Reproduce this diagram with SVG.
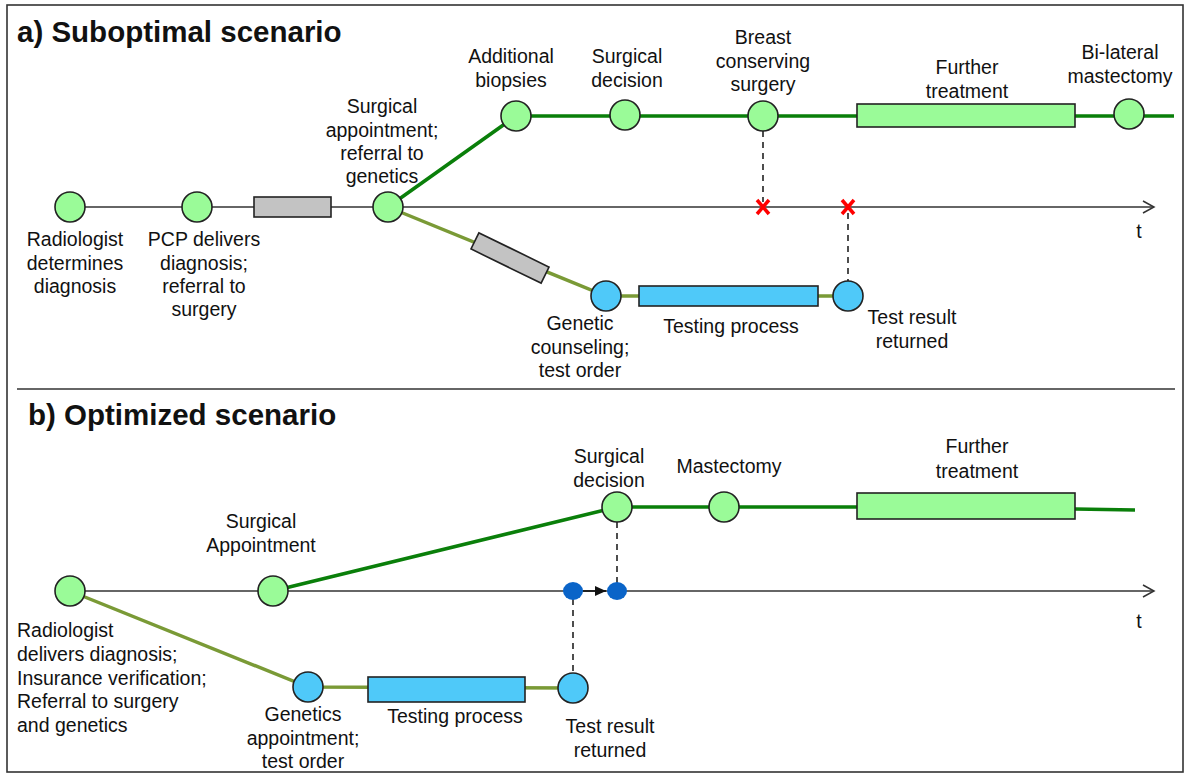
<svg xmlns="http://www.w3.org/2000/svg" width="1189" height="774" viewBox="0 0 1189 774">
<style>
text{font-family:"Liberation Sans",Arial,sans-serif;fill:#111;}
.lbl{font-size:19.5px;text-anchor:middle;}
.lbl18{font-size:19.5px;text-anchor:middle;}
.title{font-size:29.5px;font-weight:bold;}
.ng{fill:#9afb98;stroke:#222;stroke-width:1.6;}
.nb{fill:#4fc9f9;stroke:#222;stroke-width:1.6;}
.rg{fill:#9afb98;stroke:#222;stroke-width:1.6;}
.rb{fill:#4fc9f9;stroke:#222;stroke-width:1.6;}
.rgy{fill:#c3c3c3;stroke:#222;stroke-width:1.6;}
.axis{stroke:#333;stroke-width:1.5;fill:none;}
.green{stroke:#0a7f0a;stroke-width:3.5;fill:none;}
.olive{stroke:#7a9a36;stroke-width:3.5;fill:none;}
.dash{stroke:#222;stroke-width:1.6;stroke-dasharray:6,5;fill:none;}
.xmark{stroke:#f00;stroke-width:3.5;}
.dot{fill:#0a64c8;}
</style>
<defs>
<marker id="open" markerWidth="14" markerHeight="14" refX="12" refY="7" orient="auto" markerUnits="userSpaceOnUse">
<path d="M1,1 L12,7 L1,13" fill="none" stroke="#333" stroke-width="1.5"/>
</marker>
<marker id="solid" markerWidth="12" markerHeight="10" refX="11" refY="5" orient="auto" markerUnits="userSpaceOnUse">
<path d="M0,0 L11,5 L0,10 Z" fill="#111"/>
</marker>
</defs>
<rect x="7" y="5" width="1176" height="767" fill="#fff" stroke="#333" stroke-width="1.6"/>
<line x1="17" y1="389" x2="1175" y2="389" stroke="#333" stroke-width="1.6"/>
<text class="title" x="17" y="42">a) Suboptimal scenario</text>
<text class="title" x="28" y="425">b) Optimized scenario</text>

<g id="connectors">
<!-- panel a -->
<line class="axis" x1="70" y1="207" x2="1154" y2="207" marker-end="url(#open)"/>
<polyline class="green" points="388,207 516,116 1174,116"/>
<polyline class="olive" points="388,207 606,296 848,296"/>
<line class="dash" x1="763" y1="131" x2="763" y2="202"/>
<line class="dash" x1="848" y1="213" x2="848" y2="281"/>
<!-- panel b -->
<line class="axis" x1="70" y1="591" x2="1154" y2="591" marker-end="url(#open)"/>
<polyline class="green" points="273,591 617,507 857,507"/>
<line class="green" x1="1075" y1="509" x2="1135" y2="510"/>
<polyline class="olive" points="70,591 308,687 573,688"/>
<line class="dash" x1="617" y1="522" x2="617" y2="584"/>
<line class="dash" x1="573" y1="599" x2="573" y2="673"/>
<line x1="583" y1="591" x2="606" y2="591" stroke="#111" stroke-width="1.6" marker-end="url(#solid)"/>
</g>

<g id="a-radiologist"><circle class="ng" cx="70" cy="207" r="15"/>
<text class="lbl" x="75"><tspan x="75" y="246">Radiologist</tspan><tspan x="75" y="270">determines</tspan><tspan x="75" y="293">diagnosis</tspan></text></g>
<g id="a-pcp"><circle class="ng" cx="197" cy="207" r="15"/>
<text class="lbl" x="204"><tspan x="204" y="246">PCP delivers</tspan><tspan x="204" y="270">diagnosis;</tspan><tspan x="204" y="293">referral to</tspan><tspan x="204" y="316">surgery</tspan></text></g>
<g id="a-wait1"><rect class="rgy" x="254" y="197" width="77" height="20"/></g>
<g id="a-surgappt"><circle class="ng" cx="388" cy="207" r="15"/>
<text class="lbl" x="382"><tspan x="382" y="113">Surgical</tspan><tspan x="382" y="137">appointment;</tspan><tspan x="382" y="160">referral to</tspan><tspan x="382" y="183">genetics</tspan></text></g>
<g id="a-biopsies"><circle class="ng" cx="516" cy="116" r="15"/>
<text class="lbl" x="511"><tspan x="511" y="63">Additional</tspan><tspan x="511" y="87">biopsies</tspan></text></g>
<g id="a-decision"><circle class="ng" cx="625" cy="115" r="15"/>
<text class="lbl" x="627"><tspan x="627" y="63">Surgical</tspan><tspan x="627" y="87">decision</tspan></text></g>
<g id="a-bcs"><circle class="ng" cx="763" cy="116" r="15"/>
<text class="lbl" x="763"><tspan x="763" y="44">Breast</tspan><tspan x="763" y="68">conserving</tspan><tspan x="763" y="91">surgery</tspan></text></g>
<g id="a-further"><rect class="rg" x="857" y="104" width="218" height="23"/>
<text class="lbl" x="967"><tspan x="967" y="74">Further</tspan><tspan x="967" y="98">treatment</tspan></text></g>
<g id="a-bilateral"><circle class="ng" cx="1129" cy="114" r="15"/>
<text class="lbl" x="1120"><tspan x="1120" y="59">Bi-lateral</tspan><tspan x="1120" y="83">mastectomy</tspan></text></g>
<g id="a-wait2"><rect class="rgy" x="-39" y="-9" width="78" height="18" transform="translate(510,258) rotate(26)"/></g>
<g id="a-counsel"><circle class="nb" cx="606" cy="296" r="15"/>
<text class="lbl" x="580"><tspan x="580" y="330">Genetic</tspan><tspan x="580" y="354">counseling;</tspan><tspan x="580" y="377">test order</tspan></text></g>
<g id="a-testing"><rect class="rb" x="639" y="286" width="179" height="20"/>
<text class="lbl18" x="731" y="333">Testing process</text></g>
<g id="a-result"><circle class="nb" cx="848" cy="296" r="15"/>
<text class="lbl" x="912"><tspan x="912" y="324">Test result</tspan><tspan x="912" y="348">returned</tspan></text></g>
<g id="a-x1"><path class="xmark" d="M757,200 L769,214 M769,200 L757,214"/></g>
<g id="a-x2"><path class="xmark" d="M842,200 L854,214 M854,200 L842,214"/></g>
<text class="lbl" x="1139" y="238">t</text>

<g id="b-radiologist"><circle class="ng" cx="70" cy="591" r="15"/>
<text style="font-size:19.5px"><tspan x="17" y="637">Radiologist</tspan><tspan x="17" y="661">delivers diagnosis;</tspan><tspan x="17" y="685">Insurance verification;</tspan><tspan x="17" y="708">Referral to surgery</tspan><tspan x="17" y="732">and genetics</tspan></text></g>
<g id="b-surgappt"><circle class="ng" cx="273" cy="591" r="15"/>
<text class="lbl" x="261"><tspan x="261" y="528">Surgical</tspan><tspan x="261" y="552">Appointment</tspan></text></g>
<g id="b-decision"><circle class="ng" cx="617" cy="507" r="15"/>
<text class="lbl" x="609"><tspan x="609" y="463">Surgical</tspan><tspan x="609" y="487">decision</tspan></text></g>
<g id="b-mastectomy"><circle class="ng" cx="724" cy="507" r="15"/>
<text class="lbl" x="729" y="473">Mastectomy</text></g>
<g id="b-further"><rect class="rg" x="857" y="493" width="218" height="26"/>
<text class="lbl" x="977"><tspan x="977" y="453">Further</tspan><tspan x="977" y="478">treatment</tspan></text></g>
<g id="b-genappt"><circle class="nb" cx="308" cy="687" r="15"/>
<text class="lbl" x="303"><tspan x="303" y="721">Genetics</tspan><tspan x="303" y="745">appointment;</tspan><tspan x="303" y="768">test order</tspan></text></g>
<g id="b-testing"><rect class="rb" x="368" y="677" width="157" height="25"/>
<text class="lbl18" x="455" y="723">Testing process</text></g>
<g id="b-result"><circle class="nb" cx="573" cy="688" r="15"/>
<text class="lbl" x="610"><tspan x="610" y="733">Test result</tspan><tspan x="610" y="757">returned</tspan></text></g>
<g id="b-dot1"><ellipse class="dot" cx="573" cy="591" rx="10" ry="9"/></g>
<g id="b-dot2"><ellipse class="dot" cx="617" cy="591" rx="10" ry="9"/></g>
<text class="lbl" x="1139" y="628">t</text>
</svg>
